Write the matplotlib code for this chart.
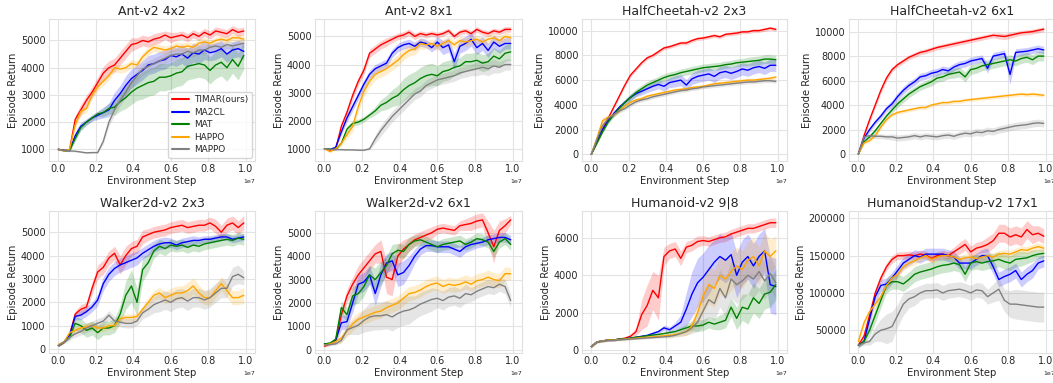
import numpy as np
import matplotlib
matplotlib.use("Agg")
import matplotlib.pyplot as plt
import seaborn as sns

sns.set_style("whitegrid")
plt.rcParams['font.family'] = ['DejaVu Sans']

steps = np.arange(34) * 0.03e7  # 0 .. 0.99e7

methods = ["TIMAR(ours)", "MA2CL", "MAT", "HAPPO", "MAPPO"]
colors = ["red", "blue", "green", "orange", "gray"]
titles = ["Ant-v2 4x2", "Ant-v2 8x1", "HalfCheetah-v2 2x3", "HalfCheetah-v2 6x1",
          "Walker2d-v2 2x3", "Walker2d-v2 6x1", "Humanoid-v2 9|8", "HumanoidStandup-v2 17x1"]

# ---------------- Ant-v2 4x2 ----------------
ant42_timar = [1000,960,980,2100,2450,2800,3100,3450,3800,4000,4100,4350,4600,4850,4900,5000,4950,5050,5100,5200,5100,5150,5200,5100,5250,5150,5300,5200,5350,5300,5250,5400,5300,5350]
ant42_ma2cl = [1000,960,960,1500,1850,2000,2150,2250,2350,2450,2800,3050,3350,3600,3750,3900,4100,4150,4250,4300,4450,4400,4500,4350,4550,4500,4650,4550,4600,4700,4500,4650,4700,4600]
ant42_mat = [1000,950,960,1400,1800,2000,2150,2300,2350,2500,2550,2750,2900,3100,3250,3350,3450,3500,3650,3650,3700,3800,3850,4050,4100,4150,4100,3900,4100,4200,4000,4300,4050,4450]
ant42_happo = [1000,940,1000,1900,2400,2500,3000,3300,3500,3700,4000,3950,4000,4150,4100,4400,4600,4750,4700,4650,4700,4800,4750,4800,4750,4900,4950,4900,5000,5050,5000,5100,5100,5050]
ant42_mappo = [980,960,940,930,900,870,880,880,1300,2000,2450,2800,3100,3450,3700,3950,4050,4150,4250,4350,4450,4500,4500,4600,4550,4650,4650,4750,4800,4750,4850,4800,4850,4900]
ant42_timar_sd = [20,30,40,150,200,200,200,200,250,250,250,250,250,250,200,200,200,200,200,150,200,150,150,150,150,150,150,150,150,150,150,150,150,150]
ant42_ma2cl_sd = [20,30,40,150,150,120,120,150,200,250,300,300,350,350,350,350,350,350,350,350,350,350,350,350,350,350,350,300,300,300,300,300,300,300]
ant42_mat_sd = [20,30,40,100,100,100,100,100,150,200,300,350,400,450,450,500,500,500,500,500,500,500,500,500,500,500,500,500,500,500,500,500,500,500]
ant42_happo_sd = [20,30,40,150,150,150,150,150,150,150,150,150,150,150,150,150,150,150,150,150,150,150,150,150,150,150,150,120,120,120,120,120,120,120]
ant42_mappo_sd = [20,30,30,30,30,30,30,30,100,150,200,200,200,200,200,200,200,200,200,200,200,200,200,150,150,150,150,150,150,150,150,150,150,150]

# ---------------- Ant-v2 8x1 ----------------
ant81_timar = [1000,950,1000,1800,2300,2900,3400,3800,4400,4550,4700,4800,4900,5000,5050,5150,5000,5100,5050,5100,5050,5100,5200,5000,5150,5200,5100,5250,5150,5100,5200,5150,5250,5250]
ant81_ma2cl = [1000,980,1050,1600,2100,2500,2900,3300,3650,3850,3950,4050,4400,4600,4700,4750,4650,4800,4750,4600,4800,4600,4700,4100,4650,4750,4900,4600,4750,4500,4800,4650,4750,4750]
ant81_mat = [1000,980,980,1200,1700,1900,1950,2050,2200,2350,2550,2650,2800,2900,3100,3250,3350,3500,3600,3650,3600,3750,3800,3900,3950,4100,4100,4150,4050,4100,4300,4200,4400,4450]
ant81_happo = [1000,900,1000,1200,1500,1800,2500,3050,3400,3650,3750,3850,4000,4150,4350,4500,4550,4750,4700,4750,4650,4750,4850,4700,4850,4800,4850,4900,4800,4900,4950,4850,5000,4950]
ant81_mappo = [1000,980,970,970,960,960,950,950,1000,1350,1650,1900,2150,2350,2550,2750,2950,3050,3250,3350,3450,3500,3550,3600,3700,3750,3800,3850,3900,3850,3950,3900,4000,4000]
ant81_timar_sd = [20,30,30,100,150,150,150,150,150,150,150,150,120,120,120,120,120,100,100,100,100,100,100,100,100,100,100,100,100,100,100,100,100,100]
ant81_ma2cl_sd = [20,30,30,100,150,150,150,150,150,150,150,150,150,150,150,150,150,150,150,150,200,250,250,300,250,250,250,250,250,250,250,250,200,200]
ant81_mat_sd = [20,30,30,50,100,100,100,100,100,150,200,250,300,350,400,400,400,400,400,400,350,350,350,300,300,300,300,300,300,300,300,300,300,300]
ant81_happo_sd = [20,50,50,100,150,200,200,200,200,200,200,200,200,200,200,200,200,200,150,150,150,150,150,150,150,150,150,150,150,150,150,150,150,150]
ant81_mappo_sd = [20,20,20,20,20,20,20,20,50,150,200,200,200,200,200,200,200,200,200,200,200,200,200,200,200,200,200,250,250,250,250,200,200,200]

# ---------------- HalfCheetah-v2 2x3 ----------------
hc23_timar = [0,1000,2000,2900,3800,4700,5600,6400,6900,7400,7800,8000,8300,8600,8700,8850,9000,9000,9200,9350,9400,9500,9600,9500,9700,9750,9800,9900,9900,10000,10000,10100,10200,10100]
hc23_ma2cl = [0,1100,2000,2700,3300,3800,4200,4600,4900,5100,5300,5500,5650,5500,5800,5900,6000,5600,6100,6300,6400,6500,6300,6600,6700,6550,6700,6900,6800,7000,7100,6950,7200,7200]
hc23_mat = [0,900,1800,2600,3200,3700,4200,4600,5000,5300,5600,5800,6000,6200,6350,6450,6600,6700,6800,6900,7000,7050,7100,7150,7250,7300,7400,7450,7500,7550,7600,7700,7700,7650]
hc23_happo = [0,1300,2700,3000,3200,3500,3900,4200,4400,4500,4700,4800,4900,5000,5100,5200,5250,5300,5400,5450,5500,5600,5700,5750,5800,5850,5900,5950,6000,6000,6050,6100,6150,6250]
hc23_mappo = [0,1200,2300,2900,3200,3500,3700,4000,4250,4400,4500,4650,4750,4850,4950,5050,5150,5200,5300,5350,5450,5500,5550,5600,5650,5700,5750,5800,5850,5850,5900,5950,5950,5900]
hc23_timar_sd = [20,100,150,150,150,150,150,150,150,150,150,150,150,150,150,150,150,150,150,150,150,150,150,150,150,150,150,150,150,150,150,150,150,150]
hc23_ma2cl_sd = [20,100,150,150,200,200,200,250,250,300,300,350,350,400,400,450,450,450,450,500,500,500,500,500,500,500,500,500,500,500,500,500,500,500]
hc23_mat_sd = [20,100,150,150,200,250,250,300,300,300,300,300,300,300,300,300,300,300,300,300,300,300,300,300,300,300,300,300,350,350,350,350,350,350]
hc23_happo_sd = [20,300,300,150,150,150,150,150,150,150,150,150,150,150,150,150,150,150,150,150,150,150,150,150,150,150,150,150,150,150,150,150,150,150]
hc23_mappo_sd = [20,300,300,150,150,150,150,150,150,150,150,150,150,150,150,150,150,150,150,150,150,150,150,150,150,150,150,150,150,150,150,150,150,150]

# ---------------- HalfCheetah-v2 6x1 ----------------
hc61_timar = [0,1500,2800,4000,5200,6200,6900,7300,7600,7900,8100,8300,8400,8550,8700,8800,8900,9000,9100,9200,9300,9400,9500,9600,9700,9650,9600,9700,9800,9900,9950,10000,10100,10200]
hc61_ma2cl = [0,1300,2000,2600,3100,3700,4100,4700,5200,5600,5900,6300,6400,6600,6700,6900,6800,7100,7300,7400,7600,7700,7800,7000,8000,8100,8200,6500,8300,8350,8400,8500,8600,8500]
hc61_mat = [0,1000,1400,1900,2500,3100,3600,4100,4500,4900,5200,5500,5700,5900,6200,6300,6500,6600,6700,6300,6900,7000,7200,7300,7400,7500,7600,7700,7600,7800,7900,7700,8000,8000]
hc61_happo = [0,900,1100,1500,2200,2800,3200,3400,3500,3600,3700,3800,3800,4000,4100,4200,4200,4300,4300,4400,4450,4500,4550,4600,4650,4700,4750,4800,4850,4900,4850,4900,4850,4800]
hc61_mappo = [0,1400,1500,1450,1450,1400,1400,1300,1350,1400,1500,1400,1500,1450,1400,1500,1550,1450,1600,1700,1650,1800,1750,1900,1850,2000,2100,2200,2300,2350,2400,2500,2550,2500]
hc61_timar_sd = [20,200,250,250,250,250,200,200,200,200,200,200,200,200,200,200,200,200,200,200,200,200,200,200,200,250,250,250,200,200,200,200,200,200]
hc61_ma2cl_sd = [20,150,200,200,250,250,300,300,300,300,300,300,300,300,300,300,300,300,300,300,300,300,300,400,300,300,300,800,300,300,300,300,300,300]
hc61_mat_sd = [20,150,150,200,200,250,250,300,300,300,300,300,300,350,350,350,350,400,400,400,400,400,400,400,400,400,400,400,400,400,400,400,400,400]
hc61_happo_sd = [20,100,150,150,150,150,150,150,150,150,150,150,150,150,150,150,150,150,150,150,150,150,150,150,150,150,150,150,150,150,150,150,150,150]
hc61_mappo_sd = [20,200,200,200,200,200,250,250,250,250,250,250,250,250,250,250,250,250,250,250,250,300,300,300,300,300,300,300,300,300,300,300,300,300]

# ---------------- Walker2d-v2 2x3 ----------------
wk23_timar = [150,300,600,1500,1700,1800,2600,3300,3500,3900,4100,3600,4000,4300,4400,4800,4900,5000,5050,5100,5200,5250,5300,5200,5250,5300,5300,5400,5250,5000,5300,5400,5200,5400]
wk23_ma2cl = [150,300,600,1400,1450,1600,1800,2100,2800,3200,3450,3600,3700,3800,3900,4100,4250,4400,4500,4550,4550,4450,4550,4600,4650,4650,4700,4700,4750,4800,4800,4700,4750,4800]
wk23_mat = [150,300,500,1100,1000,800,900,700,900,900,1000,1500,2300,2700,2000,3400,3700,4200,4400,4300,4450,4400,4450,4350,4450,4400,4500,4550,4600,4650,4700,4650,4750,4700]
wk23_happo = [200,300,700,800,900,950,1000,900,900,1000,1000,1300,1350,1350,1400,1700,2000,2300,2400,2200,2300,2400,2400,2500,2700,2400,2200,2200,2500,2800,2500,2200,2200,2300]
wk23_mappo = [150,300,500,650,750,900,1000,1100,1200,1450,1200,1150,1100,1100,1200,1550,1700,1900,2000,2100,2000,2150,2200,2050,2200,2200,2100,2200,2400,2600,2600,3100,3200,3050]
wk23_timar_sd = [50,50,100,150,200,200,250,300,300,300,300,400,400,300,300,300,250,250,250,250,250,250,250,250,250,250,250,250,300,300,300,300,300,300]
wk23_ma2cl_sd = [50,50,100,150,200,200,200,250,300,300,300,300,300,300,300,250,250,250,250,250,200,200,200,200,200,150,150,150,150,150,150,150,150,150]
wk23_mat_sd = [50,50,100,300,300,300,300,300,300,300,300,400,600,700,600,500,400,300,300,300,250,250,250,250,250,250,250,250,250,250,250,250,250,250]
wk23_happo_sd = [50,50,100,150,150,150,150,150,150,150,150,150,150,150,150,150,200,200,250,250,300,300,300,350,350,350,300,300,300,300,300,300,300,350]
wk23_mappo_sd = [50,50,100,150,150,200,200,200,200,200,200,200,200,200,200,250,300,350,400,400,400,400,400,400,400,400,400,400,400,400,400,400,400,300]

# ---------------- Walker2d-v2 6x1 ----------------
wk61_timar = [150,250,400,1500,2300,2800,3200,3500,3800,4100,4200,3100,3000,4000,4300,4500,4700,4800,4900,5000,5150,5200,5150,5100,5300,5350,5400,5500,5550,5000,4400,5100,5300,5550]
wk61_ma2cl = [250,270,400,1150,1200,2000,2800,2900,3200,2400,3200,3700,3800,3200,3300,3600,4000,4300,4450,4450,4400,4400,4400,4300,4200,4400,4500,4550,4600,4700,4750,4800,4800,4700]
wk61_mat = [250,280,450,1800,1500,2300,2400,2700,3200,3000,3300,3600,4100,4250,4200,4500,4650,4700,4600,4500,4400,4500,4550,4600,4650,4500,4600,4750,4700,4600,4200,4600,4750,4500]
wk61_happo = [200,250,350,500,800,1100,1300,1400,1500,1600,1650,1800,1900,2000,2200,2400,2450,2550,2700,2800,2850,2700,2800,2750,2800,2900,2800,2950,3000,3100,3000,2950,3250,3250]
wk61_mappo = [200,220,250,400,850,950,1050,1250,1400,1450,1450,1500,1400,1550,1650,1700,1800,1950,2050,2150,2200,2100,2250,2300,2200,2400,2350,2500,2600,2700,2650,2800,2700,2100]
wk61_timar_sd = [50,50,100,200,300,300,400,400,400,400,500,700,700,500,400,300,250,250,250,250,200,200,200,200,200,250,300,300,300,500,700,400,300,200]
wk61_ma2cl_sd = [50,50,100,300,300,400,400,400,400,500,500,400,400,500,500,400,300,250,250,250,250,250,250,250,250,250,250,200,200,200,200,200,200,200]
wk61_mat_sd = [50,50,100,300,300,400,400,400,400,500,500,400,400,300,300,300,250,250,250,250,250,250,250,250,250,250,250,250,250,250,250,250,250,250]
wk61_happo_sd = [50,50,100,200,250,300,300,300,300,300,300,300,300,300,300,300,300,300,300,300,300,300,300,300,300,300,300,300,300,300,300,300,300,250]
wk61_mappo_sd = [50,50,50,100,200,300,400,500,600,600,600,600,600,600,600,600,500,500,500,500,400,400,400,400,400,400,300,300,300,300,300,300,300,300]

# ---------------- Humanoid-v2 9|8 ----------------
hum_timar = [200,450,500,550,550,600,650,750,1000,1900,2400,3200,2800,5000,5300,5400,4900,5500,5600,5800,5850,5800,5900,6000,6050,6200,6300,6400,6500,6500,6600,6700,6800,6800]
hum_ma2cl = [200,450,500,550,550,600,620,650,700,750,800,900,1000,1200,1100,1300,1500,2200,3000,3600,3900,4300,4700,5000,4800,5100,4000,4700,5000,4500,5000,5300,3500,3400]
hum_mat = [200,450,500,550,550,600,620,650,700,730,780,820,850,900,950,1000,1100,1200,1300,1300,1350,1500,1400,1500,1600,2300,1700,2300,2200,2800,2500,3000,3100,3500]
hum_happo = [200,450,500,550,550,580,600,620,650,680,700,720,750,780,800,850,900,1000,1300,2000,2900,3500,3300,4000,3800,4200,4500,4300,4800,5000,4500,5300,5000,5300]
hum_mappo = [200,450,500,520,540,560,580,600,620,640,660,680,700,720,750,800,900,1000,1200,1500,2100,2700,2500,3300,2800,3800,3500,3700,4000,3800,4200,3700,4100,3600]
hum_timar_sd = [50,50,50,50,50,50,50,100,200,800,1100,1000,1200,500,400,400,400,300,300,300,250,250,250,250,250,250,250,250,250,250,250,250,250,250]
hum_ma2cl_sd = [50,50,50,50,50,50,50,50,50,50,50,100,100,150,150,200,400,900,1200,1300,1300,1300,1200,1200,1200,1200,1200,1200,1200,1200,1200,1200,1500,1500]
hum_mat_sd = [50,50,50,50,50,50,50,50,50,50,50,50,50,50,100,100,150,200,250,300,300,300,300,400,400,500,600,700,800,800,800,800,800,800]
hum_happo_sd = [50,50,50,50,50,50,50,50,50,50,50,50,50,50,100,100,150,200,300,600,900,1000,1000,1000,1000,1000,1000,1000,1000,1000,1000,1000,900,800]
hum_mappo_sd = [50,50,50,50,50,50,50,50,50,50,50,50,50,50,100,100,150,200,300,500,800,900,900,1000,1000,1000,1000,1000,1000,1000,1000,1000,900,800]

# ---------------- HumanoidStandup-v2 17x1 ----------------
hs_timar = [30000,42000,70000,100000,120000,135000,145000,150000,150000,151000,150000,152000,151000,146000,150000,152000,150000,155000,160000,165000,155000,160000,162000,165000,170000,180000,180000,175000,178000,175000,185000,178000,180000,176000]
hs_ma2cl = [30000,35000,65000,95000,110000,112000,120000,130000,140000,145000,150000,148000,152000,152000,152000,152000,150000,148000,140000,140000,140000,145000,150000,150000,135000,118000,122000,125000,130000,118000,125000,130000,140000,143000]
hs_mat = [30000,35000,50000,70000,90000,110000,115000,115000,112000,118000,125000,128000,130000,132000,135000,137000,138000,140000,138000,125000,140000,142000,140000,142000,143000,145000,142000,140000,145000,146000,147000,150000,152000,153000]
hs_happo = [35000,60000,75000,85000,95000,110000,120000,125000,135000,140000,143000,147000,150000,145000,148000,150000,150000,148000,145000,147000,148000,146000,148000,150000,148000,152000,153000,152000,155000,158000,157000,160000,162000,160000]
hs_mappo = [30000,33000,35000,45000,50000,52000,55000,70000,85000,92000,95000,100000,103000,103000,104000,100000,103000,104000,105000,103000,100000,104000,103000,95000,100000,105000,90000,85000,85000,84000,83000,82000,81000,81000]
hs_timar_sd = [3000,5000,5000,5000,5000,5000,5000,5000,5000,5000,5000,5000,5000,5000,5000,5000,5000,6000,8000,8000,8000,8000,8000,10000,10000,12000,12000,12000,12000,12000,12000,12000,10000,10000]
hs_ma2cl_sd = [3000,3000,8000,8000,8000,8000,8000,8000,8000,8000,8000,8000,8000,8000,8000,8000,8000,8000,8000,8000,8000,8000,8000,10000,10000,10000,10000,10000,10000,10000,10000,10000,8000,8000]
hs_mat_sd = [3000,3000,8000,10000,10000,10000,10000,10000,10000,10000,10000,10000,10000,10000,10000,10000,10000,10000,10000,10000,10000,10000,10000,10000,10000,10000,10000,10000,10000,10000,8000,8000,6000,6000]
hs_happo_sd = [3000,5000,5000,5000,5000,5000,5000,5000,5000,5000,5000,5000,5000,5000,5000,5000,5000,5000,5000,5000,5000,5000,5000,5000,5000,5000,5000,5000,5000,5000,5000,5000,5000,5000]
hs_mappo_sd = [3000,3000,5000,10000,15000,20000,20000,15000,15000,12000,12000,10000,10000,10000,10000,10000,10000,10000,10000,10000,10000,10000,10000,10000,12000,15000,15000,18000,20000,20000,20000,20000,20000,20000]

panels = [
    ([ant42_timar, ant42_ma2cl, ant42_mat, ant42_happo, ant42_mappo],
     [ant42_timar_sd, ant42_ma2cl_sd, ant42_mat_sd, ant42_happo_sd, ant42_mappo_sd]),
    ([ant81_timar, ant81_ma2cl, ant81_mat, ant81_happo, ant81_mappo],
     [ant81_timar_sd, ant81_ma2cl_sd, ant81_mat_sd, ant81_happo_sd, ant81_mappo_sd]),
    ([hc23_timar, hc23_ma2cl, hc23_mat, hc23_happo, hc23_mappo],
     [hc23_timar_sd, hc23_ma2cl_sd, hc23_mat_sd, hc23_happo_sd, hc23_mappo_sd]),
    ([hc61_timar, hc61_ma2cl, hc61_mat, hc61_happo, hc61_mappo],
     [hc61_timar_sd, hc61_ma2cl_sd, hc61_mat_sd, hc61_happo_sd, hc61_mappo_sd]),
    ([wk23_timar, wk23_ma2cl, wk23_mat, wk23_happo, wk23_mappo],
     [wk23_timar_sd, wk23_ma2cl_sd, wk23_mat_sd, wk23_happo_sd, wk23_mappo_sd]),
    ([wk61_timar, wk61_ma2cl, wk61_mat, wk61_happo, wk61_mappo],
     [wk61_timar_sd, wk61_ma2cl_sd, wk61_mat_sd, wk61_happo_sd, wk61_mappo_sd]),
    ([hum_timar, hum_ma2cl, hum_mat, hum_happo, hum_mappo],
     [hum_timar_sd, hum_ma2cl_sd, hum_mat_sd, hum_happo_sd, hum_mappo_sd]),
    ([hs_timar, hs_ma2cl, hs_mat, hs_happo, hs_mappo],
     [hs_timar_sd, hs_ma2cl_sd, hs_mat_sd, hs_happo_sd, hs_mappo_sd]),
]

ylims = [(570, 5790), (565, 5620), (-540, 10940), (-570, 11030),
         (-170, 5910), (-140, 5930), (-140, 7425), (19500, 209800)]
yticks = [[1000, 2000, 3000, 4000, 5000], [1000, 2000, 3000, 4000, 5000],
          [0, 2000, 4000, 6000, 8000, 10000], [0, 2000, 4000, 6000, 8000, 10000],
          [0, 1000, 2000, 3000, 4000, 5000], [0, 1000, 2000, 3000, 4000, 5000],
          [0, 2000, 4000, 6000], [50000, 100000, 150000, 200000]]

W, H = 1053, 383
fig = plt.figure(figsize=(W / 100, H / 100), dpi=100)
lefts = [49, 315, 582, 849]
widths = [206, 207, 205, 206]
rows = [(19, 161), (211, 353)]

txt = '#262626'
for k in range(8):
    r, c = divmod(k, 4)
    top, bot = rows[r]
    ax = fig.add_axes([lefts[c] / W, 1 - bot / H, widths[c] / W, (bot - top) / H])
    means, sds = panels[k]
    for m, s, col, lab in zip(means, sds, colors, methods):
        m = np.array(m, float)
        s = np.array(s, float)
        ax.fill_between(steps, m - s, m + s, color=col, alpha=0.2, lw=0)
        ax.plot(steps, m, color=col, lw=1.0, label=lab)
    ax.set_xlim(-0.05e7, 1.05e7)
    ax.set_ylim(*ylims[k])
    ax.set_yticks(yticks[k])
    ax.set_xticks([0, 0.2e7, 0.4e7, 0.6e7, 0.8e7, 1.0e7])
    ax.set_title(titles[k], fontsize=9, color=txt, pad=3)
    ax.set_xlabel("Environment Step", fontsize=7.2, color=txt, labelpad=1)
    ax.set_ylabel("Episode Return", fontsize=7.2, color=txt, labelpad=2)
    ax.tick_params(labelsize=7.0, colors=txt, pad=2.5, length=0)
    ax.xaxis.get_offset_text().set_fontsize(4.5)
    ax.grid(True, color='#e3e3e3', lw=0.8)
    for sp in ax.spines.values():
        sp.set_color('#e0e0e0')
        sp.set_linewidth(0.8)
    if k == 0:
        leg = ax.legend(loc='lower right', fontsize=6.4, frameon=True,
                        handlelength=1.9, borderpad=0.4, labelspacing=0.4,
                        handletextpad=0.6, borderaxespad=0.35)
        for h in leg.get_lines():
            h.set_linewidth(1.5)
        for t in leg.get_texts():
            t.set_color(txt)

fig.savefig("out.png", dpi=100)
